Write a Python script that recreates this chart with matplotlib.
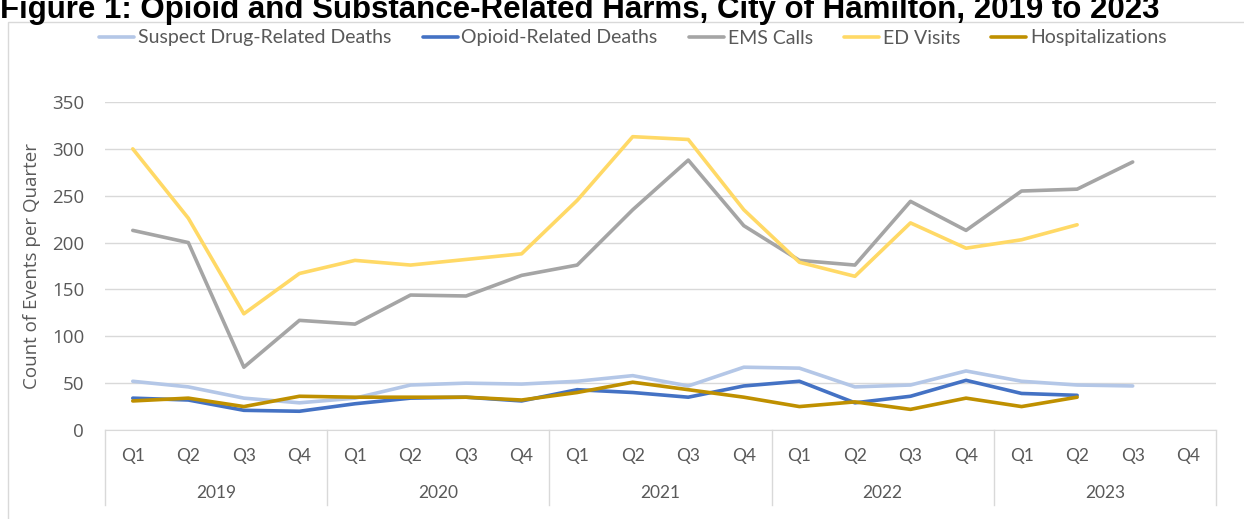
import numpy as np
import matplotlib
matplotlib.use("Agg")
import matplotlib.pyplot as plt
from matplotlib.patches import Rectangle
import matplotlib.transforms as mtransforms

plt.rcParams['font.family'] = ['Lato', 'DejaVu Sans']

# data, quarters 2019 Q1 .. 2023 Q4
years = ['2019', '2020', '2021', '2022', '2023']
quarters = ['Q1', 'Q2', 'Q3', 'Q4']
nan = np.nan

suspect_deaths = [52, 46, 34, 29, 34, 48, 50, 49, 52, 58, 47, 67,
                  66, 46, 48, 63, 52, 48, 47, nan]
opioid_deaths = [34, 32, 21, 20, 28, 34, 35, 31, 43, 40, 35, 47,
                 52, 29, 36, 53, 39, 37, nan, nan]
ems_calls = [213, 200, 67, 117, 113, 144, 143, 165, 176, 235, 288, 218,
             181, 176, 244, 213, 255, 257, 286, nan]
ed_visits = [300, 226, 124, 167, 181, 176, 182, 188, 245, 313, 310, 235,
             179, 164, 221, 194, 203, 219, nan, nan]
hospitalizations = [31, 34, 25, 36, 35, 35, 35, 32, 40, 51, 43, 35,
                    25, 30, 22, 34, 25, 35, nan, nan]

series = [
    ('Suspect Drug-Related Deaths', suspect_deaths, '#B4C7E7'),
    ('Opioid-Related Deaths', opioid_deaths, '#4472C4'),
    ('EMS Calls', ems_calls, '#A5A5A5'),
    ('ED Visits', ed_visits, '#FFD966'),
    ('Hospitalizations', hospitalizations, '#BF9000'),
]

W, H = 1244, 519
fig = plt.figure(figsize=(W / 100, H / 100), dpi=100)
ax = fig.add_axes([105 / W, 1 - 430 / H, (1216 - 105) / W, (430 - 102) / H])

n = len(years) * len(quarters)
x = np.arange(n)
for name, vals, col in series:
    ax.plot(x, vals, color=col, lw=2.6, label=name, solid_capstyle='round')

ax.set_xlim(-0.5, n - 0.5)
ax.set_ylim(0, 350)
ax.set_yticks(np.arange(0, 351, 50))
ax.yaxis.grid(True, color='#D9D9D9', lw=1)
ax.set_axisbelow(True)
for s in ['top', 'right', 'left']:
    ax.spines[s].set_visible(False)
ax.spines['bottom'].set_color('#D9D9D9')
ax.tick_params(axis='y', length=0, pad=15, labelsize=13.5, labelcolor='#595959')
for lab in ax.get_yticklabels():
    lab.set_family('Open Sans')
ax.set_xticks([])
ax.set_ylabel('Count of Events per Quarter', fontsize=13.5, color='#595959',
              labelpad=8, family='Open Sans')

# two-level category axis
trans = mtransforms.blended_transform_factory(ax.transData, ax.transAxes)
for i in range(n):
    ax.text(x[i], -0.078, quarters[i % 4], transform=trans, ha='center', va='center',
            fontsize=12.5, color='#595959')
for j, yr in enumerate(years):
    ax.text(j * 4 + 1.5, -0.193, yr, transform=trans, ha='center', va='center',
            fontsize=12.5, color='#595959')
for j in range(len(years) + 1):
    ax.plot([j * 4 - 0.5, j * 4 - 0.5], [0, -0.23], transform=trans, color='#D9D9D9',
            lw=1, clip_on=False)

# chart border
fig.patches.append(Rectangle((8 / W, -0.01), 1.02, 1 - 22 / H + 0.01, transform=fig.transFigure,
                             fill=False, edgecolor='#D9D9D9', lw=1))

fig.legend(loc='center', bbox_to_anchor=(633 / W, 1 - 38 / H), ncol=5, frameon=False,
           fontsize=14, labelcolor='#595959', handlelength=1.8, handletextpad=0.2,
           columnspacing=1.6)

fig.text(0.0, 1 - 18 / H, 'Figure 1: Opioid and Substance-Related Harms, City of Hamilton, 2019 to 2023',
         fontsize=22.5, fontweight='bold', family='Liberation Sans', va='baseline', ha='left')

fig.savefig('out.png', dpi=100)
